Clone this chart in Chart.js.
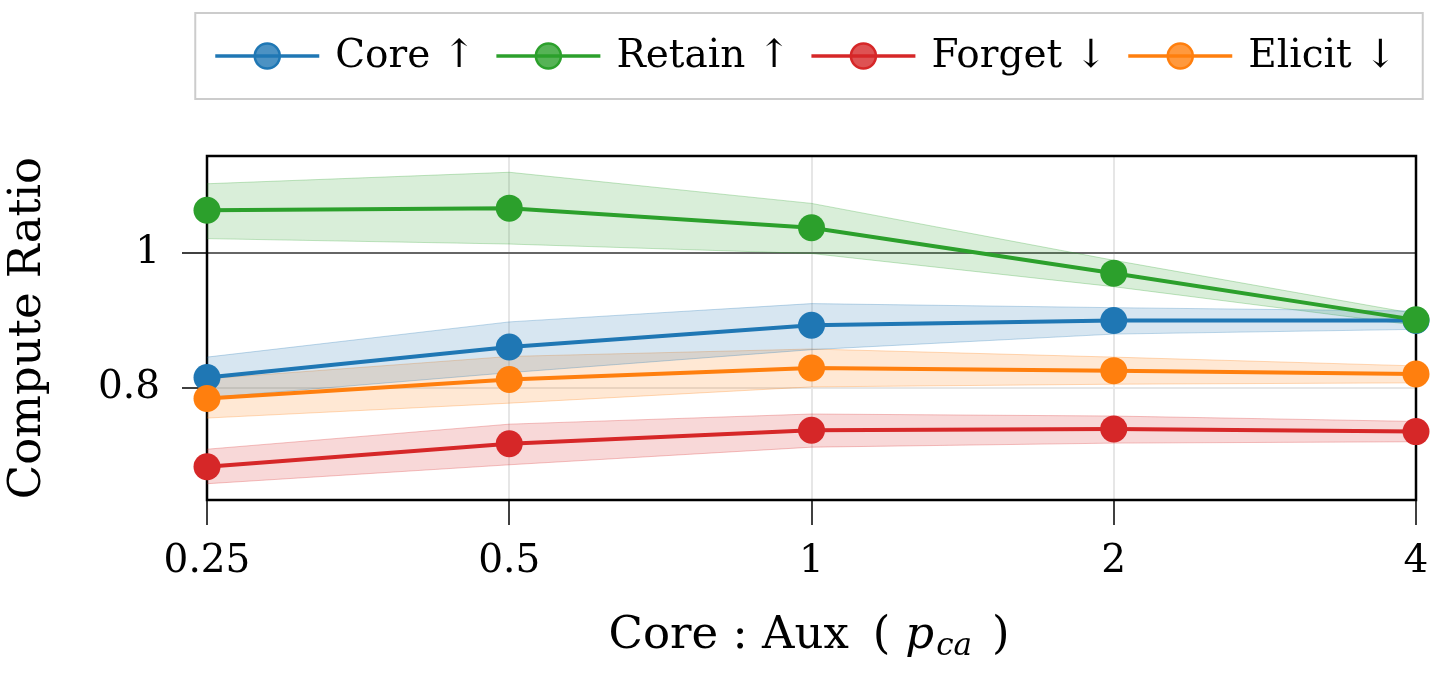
<!DOCTYPE html>
<html>
<head>
<meta charset="utf-8">
<script src="https://cdn.jsdelivr.net/npm/chart.js@4.4.1/dist/chart.umd.min.js"></script>
<style>
  html, body { margin: 0; padding: 0; background: #fff; }
</style>
</head>
<body>
<canvas id="grafico" width="1442" height="676"></canvas>
<script>
// Eixo x: razão Core : Aux (escala log2, pontos igualmente espaçados)
const razoes = ["0.25", "0.5", "1", "2", "4"];
const marcasY = [0.8, 1];

// Médias e bandas
const coreMedia = [0.816, 0.861, 0.893, 0.900, 0.900];
const coreSup   = [0.846, 0.898, 0.925, 0.919, 0.914];
const coreInf   = [0.786, 0.823, 0.857, 0.880, 0.887];

const retainMedia = [1.063, 1.066, 1.037, 0.970, 0.901];
const retainSup   = [1.102, 1.119, 1.073, 0.989, 0.910];
const retainInf   = [1.021, 1.013, 0.999, 0.950, 0.893];

const forgetMedia = [0.684, 0.718, 0.738, 0.740, 0.736];
const forgetSup   = [0.710, 0.747, 0.762, 0.759, 0.751];
const forgetInf   = [0.659, 0.687, 0.713, 0.719, 0.721];

const elicitMedia = [0.785, 0.813, 0.830, 0.826, 0.821];
const elicitSup   = [0.814, 0.847, 0.858, 0.846, 0.833];
const elicitInf   = [0.756, 0.778, 0.802, 0.806, 0.808];

const nomes = ["Core ↑", "Retain ↑", "Forget ↓", "Elicit ↓"];

// Cores tab10
const cores = {
    azul: [31, 119, 180],
    verde: [44, 160, 44],
    vermelho: [214, 39, 40],
    laranja: [255, 127, 14]
};
const rgba = (c, a) => `rgba(${c[0]}, ${c[1]}, ${c[2]}, ${a})`;

const FONTE = "DejaVu Serif";
Chart.defaults.font.family = FONTE;
Chart.defaults.color = "#000";

function linha(label, dados, cor, ordem) {
    return {
        label: label,
        data: dados,
        borderColor: rgba(cor, 1),
        backgroundColor: rgba(cor, 1),
        borderWidth: 4,
        pointRadius: 13.5,
        pointHoverRadius: 13.5,
        pointBackgroundColor: rgba(cor, 1),
        pointBorderWidth: 0,
        fill: false,
        tension: 0,
        clip: false,
        order: ordem
    };
}

function borda(dados, cor, alvo) {
    return {
        label: "_banda",
        data: dados,
        borderColor: rgba(cor, 0.28),
        backgroundColor: rgba(cor, 0.18),
        borderWidth: 1,
        pointRadius: 0,
        pointHoverRadius: 0,
        fill: alvo === undefined ? false : alvo,
        tension: 0,
        order: 10
    };
}

const datasets = [
    linha(nomes[0], coreMedia, cores.azul, 4),
    linha(nomes[1], retainMedia, cores.verde, 3),
    linha(nomes[2], forgetMedia, cores.vermelho, 2),
    linha(nomes[3], elicitMedia, cores.laranja, 1),
    borda(coreInf, cores.azul),
    borda(coreSup, cores.azul, 4),
    borda(retainInf, cores.verde),
    borda(retainSup, cores.verde, 6),
    borda(forgetInf, cores.vermelho),
    borda(forgetSup, cores.vermelho, 8),
    borda(elicitInf, cores.laranja),
    borda(elicitSup, cores.laranja, 10)
];

// Moldura completa da área do gráfico (abaixo dos marcadores)
const moldura = {
    id: "moldura",
    beforeDatasetsDraw(chart) {
        const { ctx, chartArea: a } = chart;
        ctx.save();
        ctx.strokeStyle = "#000";
        ctx.lineWidth = 2.5;
        ctx.strokeRect(a.left, a.top, a.right - a.left, a.bottom - a.top);
        ctx.restore();
    }
};

// Legenda com linha + marcador, dentro de uma caixa
const legendaCaixa = {
    id: "legendaCaixa",
    afterDraw(chart) {
        const ctx = chart.ctx;
        const itens = chart.data.datasets.slice(0, 4);
        const compLinha = 104, gapTexto = 16, gapItem = 21;
        ctx.save();
        ctx.font = `39px "${FONTE}"`;
        const larguras = itens.map(d => ctx.measureText(d.label).width);
        let total = 0;
        larguras.forEach((w, i) => {
            total += compLinha + gapTexto + w + (i < larguras.length - 1 ? gapItem : 0);
        });
        const centro = 806;
        let x = centro - total / 2;
        const yLinha = 56, yBase = 67;

        // caixa
        ctx.fillStyle = "#fff";
        ctx.strokeStyle = "#cccccc";
        ctx.lineWidth = 2;
        ctx.fillRect(x - 20, 13, total + 46, 86);
        ctx.strokeRect(x - 20, 13, total + 46, 86);

        itens.forEach((d, i) => {
            const cor = d.borderColor;
            ctx.strokeStyle = cor;
            ctx.lineWidth = 3.5;
            ctx.beginPath();
            ctx.moveTo(x, yLinha);
            ctx.lineTo(x + compLinha, yLinha);
            ctx.stroke();
            ctx.beginPath();
            ctx.arc(x + compLinha / 2, yLinha, 12.5, 0, Math.PI * 2);
            ctx.globalAlpha = 0.8;
            ctx.fillStyle = cor;
            ctx.fill();
            ctx.globalAlpha = 1;
            ctx.lineWidth = 2.5;
            ctx.stroke();
            ctx.fillStyle = "#000";
            ctx.textBaseline = "alphabetic";
            ctx.textAlign = "left";
            ctx.fillText(d.label, x + compLinha + gapTexto, yBase);
            x += compLinha + gapTexto + larguras[i] + gapItem;
        });
        ctx.restore();
    }
};

// Título do eixo x com p_ca em itálico e subscrito
const tituloX = {
    id: "tituloX",
    afterDraw(chart) {
        const ctx = chart.ctx;
        const partes = [
            { t: "Core : Aux", f: `45px "${FONTE}"`, dy: 0, gap: 24 },
            { t: "(", f: `45px "${FONTE}"`, dy: 0, gap: 15 },
            { t: "p", f: `italic 45px "${FONTE}"`, dy: 0, gap: 2 },
            { t: "ca", f: `italic 31px "${FONTE}"`, dy: 7, gap: 20 },
            { t: ")", f: `45px "${FONTE}"`, dy: 0, gap: 0 }
        ];
        ctx.save();
        let total = 0;
        partes.forEach(p => {
            ctx.font = p.f;
            p.w = ctx.measureText(p.t).width;
            total += p.w + p.gap;
        });
        let x = 809 - total / 2;
        ctx.fillStyle = "#000";
        ctx.textBaseline = "alphabetic";
        ctx.textAlign = "left";
        partes.forEach(p => {
            ctx.font = p.f;
            ctx.fillText(p.t, x, 648 + p.dy);
            x += p.w + p.gap;
        });
        ctx.restore();
    }
};

new Chart(document.getElementById("grafico"), {
    type: "line",
    data: { labels: razoes, datasets: datasets },
    options: {
        responsive: false,
        animation: false,
        layout: { padding: { top: 156, right: 26, bottom: 0, left: 0 } },
        plugins: {
            legend: { display: false },
            tooltip: { enabled: false }
        },
        scales: {
            x: {
                type: "category",
                offset: false,
                afterFit: (eixo) => { eixo.height = 176; },
                ticks: { font: { size: 39 }, color: "#000", padding: 13, maxRotation: 0, autoSkip: false },
                grid: { color: "#e6e6e6", lineWidth: 2, tickColor: "#000", tickLength: 25, tickWidth: 1.5, offset: false },
                border: { display: false }
            },
            y: {
                min: 0.635,
                max: 1.143,
                afterBuildTicks: (eixo) => { eixo.ticks = marcasY.map(v => ({ value: v })); },
                afterFit: (eixo) => { eixo.width = 207; },
                ticks: { font: { size: 39 }, color: "#000", padding: 22, callback: (v) => String(v) },
                grid: {
                    color: (c) => (c.tick && c.tick.value === 1 ? "#666666" : "#e6e6e6"),
                    lineWidth: 2,
                    tickColor: "#000",
                    tickLength: 25,
                    tickWidth: 1.5
                },
                border: { display: false },
                title: { display: true, text: "Compute Ratio", font: { size: 45 }, color: "#000", padding: { top: 1, bottom: 0 } }
            }
        }
    },
    plugins: [moldura, legendaCaixa, tituloX]
});
</script>
</body>
</html>
